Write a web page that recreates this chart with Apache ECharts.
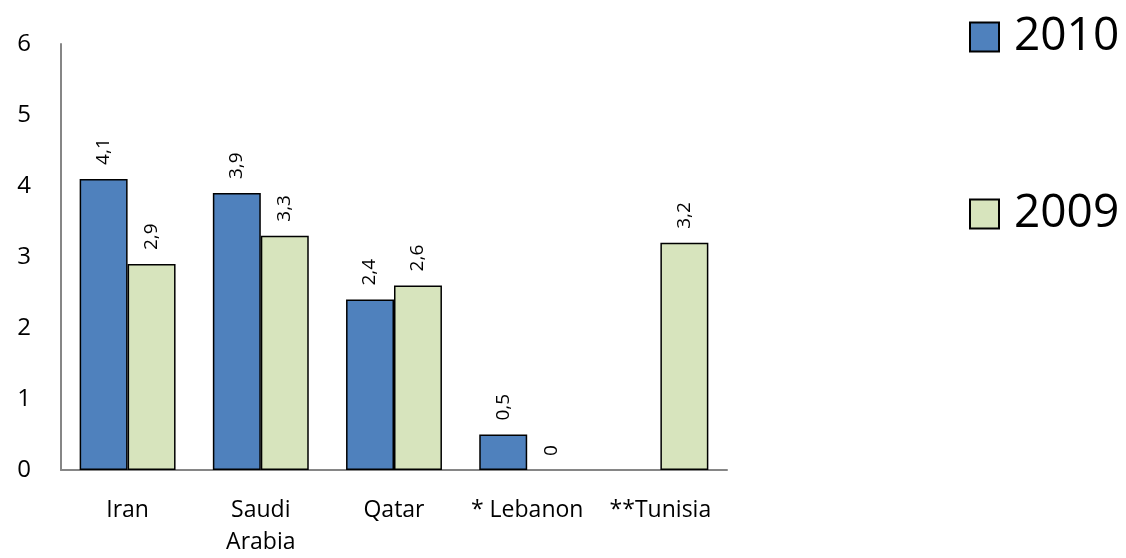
<!DOCTYPE html>
<html>
<head>
<meta charset="utf-8">
<script src="https://cdn.jsdelivr.net/npm/echarts@6/dist/echarts.min.js"></script>
<style>html,body{margin:0;padding:0;background:#fff}#c{width:1126px;height:558px}</style>
</head>
<body>
<div id="c"></div>
<script>
const categories = ['Iran', 'Saudi\nArabia', 'Qatar', '* Lebanon', '**Tunisia'];
const values2010 = [4.1, 3.9, 2.4, 0.5, null];
const values2009 = [2.9, 3.3, 2.6, 0, 3.2];
const yTicks = [0, 1, 2, 3, 4, 5, 6];

const FONT = '"Open Sans", "Noto Sans", sans-serif';
const chart = echarts.init(document.getElementById('c'), null, {renderer: 'canvas'});
const labelCfg = {
  show: true, position: 'top', rotate: 90, distance: 14, align: 'left', verticalAlign: 'middle',
  fontFamily: FONT, fontSize: 19, color: '#000',
  formatter: p => (p.value === null || p.value === undefined) ? '' : String(p.value).replace('.', ',')
};
const toData = arr => arr.map(v => (v === 0 ? {value: v, itemStyle: {borderWidth: 0}} : v));
chart.setOption({
  animation: false,
  backgroundColor: '#fff',
  grid: {left: 61, right: 399, top: 44, bottom: 87},
  legend: {
    orient: 'vertical', left: 964, top: 9, itemWidth: 29, itemHeight: 29, itemGap: 131,
    icon: 'rect',
    textStyle: {fontFamily: FONT, fontSize: 46, color: '#000', padding: [0, 0, 0, 10]},
    data: ['2010', '2009']
  },
  xAxis: {
    type: 'category', data: categories,
    axisLine: {lineStyle: {color: '#868686', width: 2}},
    axisTick: {show: false},
    axisLabel: {fontFamily: FONT, fontSize: 23, color: '#000', margin: 24, lineHeight: 32, interval: 0}
  },
  yAxis: {
    type: 'value', min: yTicks[0], max: yTicks[yTicks.length - 1], interval: 1,
    axisLine: {show: true, lineStyle: {color: '#868686', width: 2}},
    axisTick: {show: false},
    splitLine: {show: false},
    axisLabel: {fontFamily: FONT, fontSize: 24, color: '#000', margin: 30}
  },
  series: [
    {name: '2010', type: 'bar', data: toData(values2010), barGap: '0%', barCategoryGap: '28%',
     itemStyle: {color: '#4F81BD', borderColor: '#000', borderWidth: 1.5}, label: labelCfg},
    {name: '2009', type: 'bar', data: toData(values2009), barGap: '0%', barCategoryGap: '28%',
     itemStyle: {color: '#D7E4BD', borderColor: '#000', borderWidth: 1.5}, label: labelCfg}
  ]
});
</script>
</body>
</html>
